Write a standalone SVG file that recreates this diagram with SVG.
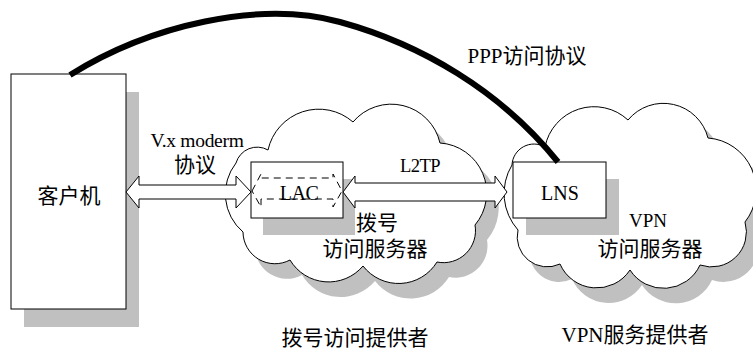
<svg xmlns="http://www.w3.org/2000/svg" width="753" height="348" viewBox="0 0 753 348">
  <defs>
    <style>
      .shadow { fill: #c0c0c0; stroke: none; }
      .box { fill: #ffffff; stroke: #000000; stroke-width: 1; }
      .cloud { fill: #ffffff; stroke: #000000; stroke-width: 1; }
      .dbl { fill: #ffffff; stroke: #000000; stroke-width: 1; stroke-linejoin: miter; }
      .dash { fill: none; stroke: #000000; stroke-width: 1; stroke-dasharray: 7 5; }
      .ppp { fill: none; stroke: #000000; stroke-width: 6; stroke-linecap: butt; }
      .lat { font-family: "Liberation Serif", "Noto Sans CJK SC", serif; fill: #000000; text-anchor: middle; }
      .cjk { font-family: "Noto Sans CJK SC", "Noto Sans", sans-serif; font-size: 21px; fill: #000000; text-anchor: middle; }
    </style>
    <!-- cloud outlines, reused for shadow and body -->
    <path id="cloudL" d="M236,163 A22,22 0 0 1 268,150 A52,52 0 0 1 353,122 A50,50 0 0 1 440,143 A50,50 0 0 1 475,225 A32,32 0 0 1 437,262 A45,45 0 0 1 363,266 A45,45 0 0 1 290,260 A32,32 0 0 1 243,232 A50,50 0 0 1 236,163 Z"/>
    <path id="cloudR" d="M512,165 A22,22 0 0 1 545,147 A50,50 0 0 1 628,120 A46,46 0 0 1 708,138 A52,52 0 0 1 745,222 A35,35 0 0 1 700,265 A40,40 0 0 1 630,270 A40,40 0 0 1 560,264 A30,30 0 0 1 518,230 A55,55 0 0 1 512,165 Z"/>
  </defs>

  <!-- provider networks -->
  <g id="dial-cloud">
    <use href="#cloudL" class="shadow" transform="translate(12,15)"/>
    <use href="#cloudL" class="cloud"/>
    <text class="cjk" x="377" y="230">拨号</text>
    <text class="cjk" x="375" y="256">访问服务器</text>
  </g>
  <g id="vpn-cloud">
    <use href="#cloudR" class="shadow" transform="translate(12,15)"/>
    <use href="#cloudR" class="cloud"/>
    <text class="lat" x="648" y="227" font-size="19">VPN</text>
    <text class="cjk" x="650" y="256">访问服务器</text>
  </g>

  <!-- client host -->
  <g id="client">
    <rect class="shadow" x="24" y="92" width="115" height="235"/>
    <rect class="box" x="11" y="74" width="115" height="235"/>
    <text class="cjk" x="69" y="203">客户机</text>
  </g>

  <!-- access concentrator -->
  <g id="lac">
    <rect class="shadow" x="263" y="179" width="92" height="56"/>
    <rect class="box" x="251" y="162" width="92" height="56"/>
    <path class="dash" d="M252,191 L261,174 L261,178 L333,178 L333,174 L342,191 L333,207 L333,199 L261,199 L261,207 Z"/>
    <text class="lat" x="299" y="200" font-size="20" letter-spacing="-0.5">LAC</text>
  </g>

  <!-- network server -->
  <g id="lns">
    <rect class="shadow" x="526" y="179" width="93" height="56"/>
    <rect class="box" x="513" y="162" width="93" height="56"/>
    <text class="lat" x="560" y="200" font-size="20">LNS</text>
  </g>

  <!-- links -->
  <g id="connectors">
    <path class="dbl" d="M126,192 L139,176 L139,185 L236,185 L236,176 L251,192 L236,208 L236,199 L139,199 L139,208 Z"/>
    <path class="dbl" d="M343,192 L355,176 L355,183 L495,183 L495,176 L507,192 L495,208 L495,201 L355,201 L355,208 Z"/>
    <path class="ppp" d="M70,75 C150,25 260,0 340,22 C420,44 500,90 558,162"/>
  </g>

  <!-- link labels -->
  <g id="labels">
    <text class="lat" x="197" y="147" font-size="19.5" letter-spacing="-0.3">V.x moderm</text>
    <text class="cjk" x="195" y="172">协议</text>
    <text class="lat" x="420" y="172" font-size="18.5" letter-spacing="-0.5">L2TP</text>
    <text class="lat" x="527" y="63" font-size="21">PPP访问协议</text>
    <text class="cjk" x="355" y="345">拨号访问提供者</text>
    <text class="lat" x="635" y="342" font-size="21">VPN服务提供者</text>
  </g>
</svg>
